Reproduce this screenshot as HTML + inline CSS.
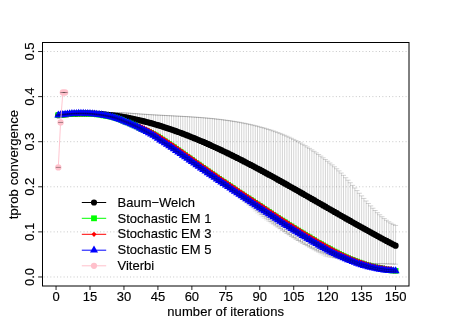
<!DOCTYPE html>
<html><head><meta charset="utf-8"><title>plot</title>
<style>
html,body{margin:0;padding:0;background:#fff;}
body{width:463px;height:327px;position:relative;overflow:hidden;font-family:"Liberation Sans",sans-serif;}
svg{will-change:transform;}
svg text{font-family:"Liberation Sans",sans-serif;font-size:13px;fill:#000;stroke:#000;stroke-width:0.15px;}
</style></head><body>
<svg width="463" height="327" viewBox="0 0 463 327" style="position:absolute;left:0;top:0" font-family="Liberation Sans, sans-serif" font-size="13">
<rect width="463" height="327" fill="#fff"/>
<line x1="43.7" x2="409.0" y1="276.98" y2="276.98" stroke="#c8c8c8" stroke-width="1" stroke-dasharray="1 2.32"/>
<line x1="43.7" x2="409.0" y1="231.89" y2="231.89" stroke="#c8c8c8" stroke-width="1" stroke-dasharray="1 2.32"/>
<line x1="43.7" x2="409.0" y1="186.79" y2="186.79" stroke="#c8c8c8" stroke-width="1" stroke-dasharray="1 2.32"/>
<line x1="43.7" x2="409.0" y1="141.7" y2="141.7" stroke="#c8c8c8" stroke-width="1" stroke-dasharray="1 2.32"/>
<line x1="43.7" x2="409.0" y1="96.61" y2="96.61" stroke="#c8c8c8" stroke-width="1" stroke-dasharray="1 2.32"/>
<line x1="43.7" x2="409.0" y1="51.52" y2="51.52" stroke="#c8c8c8" stroke-width="1" stroke-dasharray="1 2.32"/>
<g fill="#000"><circle cx="58.31" cy="115.15" r="3.1"/><circle cx="60.58" cy="114.86" r="3.1"/><circle cx="62.84" cy="114.6" r="3.1"/><circle cx="65.1" cy="114.36" r="3.1"/><circle cx="67.37" cy="114.16" r="3.1"/><circle cx="69.63" cy="113.97" r="3.1"/><circle cx="71.9" cy="113.82" r="3.1"/><circle cx="74.16" cy="113.69" r="3.1"/><circle cx="76.42" cy="113.58" r="3.1"/><circle cx="78.69" cy="113.51" r="3.1"/><circle cx="80.95" cy="113.45" r="3.1"/><circle cx="83.21" cy="113.43" r="3.1"/><circle cx="85.48" cy="113.43" r="3.1"/><circle cx="87.74" cy="113.45" r="3.1"/><circle cx="90" cy="113.5" r="3.1"/><circle cx="92.27" cy="113.57" r="3.1"/><circle cx="94.53" cy="113.67" r="3.1"/><circle cx="96.79" cy="113.79" r="3.1"/><circle cx="99.06" cy="113.93" r="3.1"/><circle cx="101.32" cy="114.1" r="3.1"/><circle cx="103.59" cy="114.29" r="3.1"/><circle cx="105.85" cy="114.5" r="3.1"/><circle cx="108.11" cy="114.74" r="3.1"/><circle cx="110.38" cy="114.99" r="3.1"/><circle cx="112.64" cy="115.27" r="3.1"/><circle cx="114.9" cy="115.58" r="3.1"/><circle cx="117.17" cy="115.9" r="3.1"/><circle cx="119.43" cy="116.25" r="3.1"/><circle cx="121.69" cy="116.61" r="3.1"/><circle cx="123.96" cy="117" r="3.1"/><circle cx="126.22" cy="117.41" r="3.1"/><circle cx="128.49" cy="117.84" r="3.1"/><circle cx="130.75" cy="118.29" r="3.1"/><circle cx="133.01" cy="118.76" r="3.1"/><circle cx="135.28" cy="119.25" r="3.1"/><circle cx="137.54" cy="119.76" r="3.1"/><circle cx="139.8" cy="120.29" r="3.1"/><circle cx="142.07" cy="120.83" r="3.1"/><circle cx="144.33" cy="121.4" r="3.1"/><circle cx="146.59" cy="121.98" r="3.1"/><circle cx="148.86" cy="122.59" r="3.1"/><circle cx="151.12" cy="123.21" r="3.1"/><circle cx="153.38" cy="123.85" r="3.1"/><circle cx="155.65" cy="124.51" r="3.1"/><circle cx="157.91" cy="125.18" r="3.1"/><circle cx="160.18" cy="125.87" r="3.1"/><circle cx="162.44" cy="126.58" r="3.1"/><circle cx="164.7" cy="127.31" r="3.1"/><circle cx="166.97" cy="128.05" r="3.1"/><circle cx="169.23" cy="128.81" r="3.1"/><circle cx="171.49" cy="129.58" r="3.1"/><circle cx="173.76" cy="130.37" r="3.1"/><circle cx="176.02" cy="131.18" r="3.1"/><circle cx="178.28" cy="132" r="3.1"/><circle cx="180.55" cy="132.83" r="3.1"/><circle cx="182.81" cy="133.68" r="3.1"/><circle cx="185.08" cy="134.55" r="3.1"/><circle cx="187.34" cy="135.43" r="3.1"/><circle cx="189.6" cy="136.32" r="3.1"/><circle cx="191.87" cy="137.23" r="3.1"/><circle cx="194.13" cy="138.15" r="3.1"/><circle cx="196.39" cy="139.09" r="3.1"/><circle cx="198.66" cy="140.03" r="3.1"/><circle cx="200.92" cy="140.99" r="3.1"/><circle cx="203.18" cy="141.97" r="3.1"/><circle cx="205.45" cy="142.95" r="3.1"/><circle cx="207.71" cy="143.95" r="3.1"/><circle cx="209.97" cy="144.96" r="3.1"/><circle cx="212.24" cy="145.98" r="3.1"/><circle cx="214.5" cy="147.02" r="3.1"/><circle cx="216.77" cy="148.06" r="3.1"/><circle cx="219.03" cy="149.12" r="3.1"/><circle cx="221.29" cy="150.18" r="3.1"/><circle cx="223.56" cy="151.26" r="3.1"/><circle cx="225.82" cy="152.34" r="3.1"/><circle cx="228.08" cy="153.44" r="3.1"/><circle cx="230.35" cy="154.55" r="3.1"/><circle cx="232.61" cy="155.66" r="3.1"/><circle cx="234.87" cy="156.79" r="3.1"/><circle cx="237.14" cy="157.92" r="3.1"/><circle cx="239.4" cy="159.07" r="3.1"/><circle cx="241.67" cy="160.22" r="3.1"/><circle cx="243.93" cy="161.38" r="3.1"/><circle cx="246.19" cy="162.55" r="3.1"/><circle cx="248.46" cy="163.73" r="3.1"/><circle cx="250.72" cy="164.91" r="3.1"/><circle cx="252.98" cy="166.1" r="3.1"/><circle cx="255.25" cy="167.3" r="3.1"/><circle cx="257.51" cy="168.51" r="3.1"/><circle cx="259.77" cy="169.72" r="3.1"/><circle cx="262.04" cy="170.94" r="3.1"/><circle cx="264.3" cy="172.16" r="3.1"/><circle cx="266.56" cy="173.39" r="3.1"/><circle cx="268.83" cy="174.63" r="3.1"/><circle cx="271.09" cy="175.87" r="3.1"/><circle cx="273.36" cy="177.12" r="3.1"/><circle cx="275.62" cy="178.37" r="3.1"/><circle cx="277.88" cy="179.63" r="3.1"/><circle cx="280.15" cy="180.89" r="3.1"/><circle cx="282.41" cy="182.16" r="3.1"/><circle cx="284.67" cy="183.43" r="3.1"/><circle cx="286.94" cy="184.7" r="3.1"/><circle cx="289.2" cy="185.98" r="3.1"/><circle cx="291.46" cy="187.26" r="3.1"/><circle cx="293.73" cy="188.55" r="3.1"/><circle cx="295.99" cy="189.83" r="3.1"/><circle cx="298.26" cy="191.12" r="3.1"/><circle cx="300.52" cy="192.41" r="3.1"/><circle cx="302.78" cy="193.71" r="3.1"/><circle cx="305.05" cy="195" r="3.1"/><circle cx="307.31" cy="196.3" r="3.1"/><circle cx="309.57" cy="197.6" r="3.1"/><circle cx="311.84" cy="198.9" r="3.1"/><circle cx="314.1" cy="200.2" r="3.1"/><circle cx="316.36" cy="201.51" r="3.1"/><circle cx="318.63" cy="202.81" r="3.1"/><circle cx="320.89" cy="204.11" r="3.1"/><circle cx="323.15" cy="205.42" r="3.1"/><circle cx="325.42" cy="206.72" r="3.1"/><circle cx="327.68" cy="208.02" r="3.1"/><circle cx="329.95" cy="209.32" r="3.1"/><circle cx="332.21" cy="210.62" r="3.1"/><circle cx="334.47" cy="211.92" r="3.1"/><circle cx="336.74" cy="213.22" r="3.1"/><circle cx="339" cy="214.52" r="3.1"/><circle cx="341.26" cy="215.81" r="3.1"/><circle cx="343.53" cy="217.11" r="3.1"/><circle cx="345.79" cy="218.4" r="3.1"/><circle cx="348.05" cy="219.68" r="3.1"/><circle cx="350.32" cy="220.97" r="3.1"/><circle cx="352.58" cy="222.25" r="3.1"/><circle cx="354.85" cy="223.53" r="3.1"/><circle cx="357.11" cy="224.8" r="3.1"/><circle cx="359.37" cy="226.07" r="3.1"/><circle cx="361.64" cy="227.34" r="3.1"/><circle cx="363.9" cy="228.6" r="3.1"/><circle cx="366.16" cy="229.86" r="3.1"/><circle cx="368.43" cy="231.11" r="3.1"/><circle cx="370.69" cy="232.36" r="3.1"/><circle cx="372.95" cy="233.61" r="3.1"/><circle cx="375.22" cy="234.84" r="3.1"/><circle cx="377.48" cy="236.08" r="3.1"/><circle cx="379.74" cy="237.3" r="3.1"/><circle cx="382.01" cy="238.52" r="3.1"/><circle cx="384.27" cy="239.73" r="3.1"/><circle cx="386.54" cy="240.94" r="3.1"/><circle cx="388.8" cy="242.14" r="3.1"/><circle cx="391.06" cy="243.33" r="3.1"/><circle cx="393.33" cy="244.52" r="3.1"/><circle cx="395.59" cy="245.7" r="3.1"/></g>
<path d="M58.31 114.85V115.45M55.81 114.85h5.0M55.81 115.45h5.0M60.58 114.56V115.16M58.08 114.56h5.0M58.08 115.16h5.0M62.84 114.23V114.97M60.34 114.23h5.0M60.34 114.97h5.0M65.1 113.88V114.85M62.6 113.88h5.0M62.6 114.85h5.0M67.37 113.61V114.71M64.87 113.61h5.0M64.87 114.71h5.0M69.63 113.41V114.54M67.13 113.41h5.0M67.13 114.54h5.0M71.9 113.28V114.36M69.4 113.28h5.0M69.4 114.36h5.0M74.16 113.21V114.17M71.66 113.21h5.0M71.66 114.17h5.0M76.42 113.18V113.99M73.92 113.18h5.0M73.92 113.99h5.0M78.69 113.19V113.82M76.19 113.19h5.0M76.19 113.82h5.0M80.95 113.15V113.75M78.45 113.15h5.0M78.45 113.75h5.0M83.21 113.13V113.73M80.71 113.13h5.0M80.71 113.73h5.0M85.48 113.13V113.73M82.98 113.13h5.0M82.98 113.73h5.0M87.74 113.15V113.75M85.24 113.15h5.0M85.24 113.75h5.0M90 113.2V113.8M87.5 113.2h5.0M87.5 113.8h5.0M92.27 113.27V113.87M89.77 113.27h5.0M89.77 113.87h5.0M94.53 113.37V113.97M92.03 113.37h5.0M92.03 113.97h5.0M96.79 113.48V114.09M94.29 113.48h5.0M94.29 114.09h5.0M99.06 113.41V114.45M96.56 113.41h5.0M96.56 114.45h5.0M101.32 113.32V114.87M98.82 113.32h5.0M98.82 114.87h5.0M103.59 113.21V115.36M101.09 113.21h5.0M101.09 115.36h5.0M105.85 113.09V115.91M103.35 113.09h5.0M103.35 115.91h5.0M108.11 112.98V116.5M105.61 112.98h5.0M105.61 116.5h5.0M110.38 112.87V117.12M107.88 112.87h5.0M107.88 117.12h5.0M112.64 112.78V117.77M110.14 112.78h5.0M110.14 117.77h5.0M114.9 112.72V118.44M112.4 112.72h5.0M112.4 118.44h5.0M117.17 112.69V119.11M114.67 112.69h5.0M114.67 119.11h5.0M119.43 112.71V119.79M116.93 112.71h5.0M116.93 119.79h5.0M121.69 112.76V120.46M119.19 112.76h5.0M119.19 120.46h5.0M123.96 112.86V121.14M121.46 112.86h5.0M121.46 121.14h5.0M126.22 112.98V121.84M123.72 112.98h5.0M123.72 121.84h5.0M128.49 113.12V122.55M125.99 113.12h5.0M125.99 122.55h5.0M130.75 113.28V123.3M128.25 113.28h5.0M128.25 123.3h5.0M133.01 113.45V124.07M130.51 113.45h5.0M130.51 124.07h5.0M135.28 113.61V124.88M132.78 113.61h5.0M132.78 124.88h5.0M137.54 113.78V125.74M135.04 113.78h5.0M135.04 125.74h5.0M139.8 113.94V126.63M137.3 113.94h5.0M137.3 126.63h5.0M142.07 114.11V127.56M139.57 114.11h5.0M139.57 127.56h5.0M144.33 114.26V128.54M141.83 114.26h5.0M141.83 128.54h5.0M146.59 114.41V129.56M144.09 114.41h5.0M144.09 129.56h5.0M148.86 114.56V130.62M146.36 114.56h5.0M146.36 130.62h5.0M151.12 114.7V131.72M148.62 114.7h5.0M148.62 131.72h5.0M153.38 114.83V132.87M150.88 114.83h5.0M150.88 132.87h5.0M155.65 114.96V134.05M153.15 114.96h5.0M153.15 134.05h5.0M157.91 115.09V135.27M155.41 115.09h5.0M155.41 135.27h5.0M160.18 115.21V136.53M157.68 115.21h5.0M157.68 136.53h5.0M162.44 115.33V137.83M159.94 115.33h5.0M159.94 137.83h5.0M164.7 115.45V139.16M162.2 115.45h5.0M162.2 139.16h5.0M166.97 115.57V140.53M164.47 115.57h5.0M164.47 140.53h5.0M169.23 115.68V141.93M166.73 115.68h5.0M166.73 141.93h5.0M171.49 115.8V143.36M168.99 115.8h5.0M168.99 143.36h5.0M173.76 115.92V144.82M171.26 115.92h5.0M171.26 144.82h5.0M176.02 116.04V146.32M173.52 116.04h5.0M173.52 146.32h5.0M178.28 116.16V147.84M175.78 116.16h5.0M175.78 147.84h5.0M180.55 116.28V149.39M178.05 116.28h5.0M178.05 149.39h5.0M182.81 116.41V150.96M180.31 116.41h5.0M180.31 150.96h5.0M185.08 116.53V152.56M182.58 116.53h5.0M182.58 152.56h5.0M187.34 116.67V154.19M184.84 116.67h5.0M184.84 154.19h5.0M189.6 116.81V155.84M187.1 116.81h5.0M187.1 155.84h5.0M191.87 116.95V157.51M189.37 116.95h5.0M189.37 157.51h5.0M194.13 117.1V159.2M191.63 117.1h5.0M191.63 159.2h5.0M196.39 117.26V160.92M193.89 117.26h5.0M193.89 160.92h5.0M198.66 117.42V162.65M196.16 117.42h5.0M196.16 162.65h5.0M200.92 117.59V164.4M198.42 117.59h5.0M198.42 164.4h5.0M203.18 117.77V166.16M200.68 117.77h5.0M200.68 166.16h5.0M205.45 117.96V167.95M202.95 117.96h5.0M202.95 167.95h5.0M207.71 118.16V169.74M205.21 118.16h5.0M205.21 169.74h5.0M209.97 118.37V171.55M207.47 118.37h5.0M207.47 171.55h5.0M212.24 118.59V173.37M209.74 118.59h5.0M209.74 173.37h5.0M214.5 118.82V175.21M212 118.82h5.0M212 175.21h5.0M216.77 119.07V177.05M214.27 119.07h5.0M214.27 177.05h5.0M219.03 119.33V178.91M216.53 119.33h5.0M216.53 178.91h5.0M221.29 119.6V180.77M218.79 119.6h5.0M218.79 180.77h5.0M223.56 119.88V182.63M221.06 119.88h5.0M221.06 182.63h5.0M225.82 120.18V184.51M223.32 120.18h5.0M223.32 184.51h5.0M228.08 120.5V186.39M225.58 120.5h5.0M225.58 186.39h5.0M230.35 120.83V188.27M227.85 120.83h5.0M227.85 188.27h5.0M232.61 121.17V190.16M230.11 121.17h5.0M230.11 190.16h5.0M234.87 121.54V192.04M232.37 121.54h5.0M232.37 192.04h5.0M237.14 121.92V193.93M234.64 121.92h5.0M234.64 193.93h5.0M239.4 122.32V195.82M236.9 122.32h5.0M236.9 195.82h5.0M241.67 122.74V197.7M239.17 122.74h5.0M239.17 197.7h5.0M243.93 123.18V199.58M241.43 123.18h5.0M241.43 199.58h5.0M246.19 123.64V201.46M243.69 123.64h5.0M243.69 201.46h5.0M248.46 124.12V203.33M245.96 124.12h5.0M245.96 203.33h5.0M250.72 124.62V205.2M248.22 124.62h5.0M248.22 205.2h5.0M252.98 125.14V207.06M250.48 125.14h5.0M250.48 207.06h5.0M255.25 125.69V208.91M252.75 125.69h5.0M252.75 208.91h5.0M257.51 126.26V210.75M255.01 126.26h5.0M255.01 210.75h5.0M259.77 126.85V212.59M257.27 126.85h5.0M257.27 212.59h5.0M262.04 127.47V214.41M259.54 127.47h5.0M259.54 214.41h5.0M264.3 128.11V216.21M261.8 128.11h5.0M261.8 216.21h5.0M266.56 128.78V218.01M264.06 128.78h5.0M264.06 218.01h5.0M268.83 129.48V219.78M266.33 129.48h5.0M266.33 219.78h5.0M271.09 130.2V221.54M268.59 130.2h5.0M268.59 221.54h5.0M273.36 130.96V223.28M270.86 130.96h5.0M270.86 223.28h5.0M275.62 131.75V224.99M273.12 131.75h5.0M273.12 224.99h5.0M277.88 132.57V226.68M275.38 132.57h5.0M275.38 226.68h5.0M280.15 133.43V228.35M277.65 133.43h5.0M277.65 228.35h5.0M282.41 134.33V229.99M279.91 134.33h5.0M279.91 229.99h5.0M284.67 135.26V231.59M282.17 135.26h5.0M282.17 231.59h5.0M286.94 136.24V233.17M284.44 136.24h5.0M284.44 233.17h5.0M289.2 137.25V234.71M286.7 137.25h5.0M286.7 234.71h5.0M291.46 138.31V236.22M288.96 138.31h5.0M288.96 236.22h5.0M293.73 139.41V237.69M291.23 139.41h5.0M291.23 237.69h5.0M295.99 140.55V239.11M293.49 140.55h5.0M293.49 239.11h5.0M298.26 141.74V240.5M295.76 141.74h5.0M295.76 240.5h5.0M300.52 142.98V241.85M298.02 142.98h5.0M298.02 241.85h5.0M302.78 144.27V243.15M300.28 144.27h5.0M300.28 243.15h5.0M305.05 145.6V244.41M302.55 145.6h5.0M302.55 244.41h5.0M307.31 146.97V245.63M304.81 146.97h5.0M304.81 245.63h5.0M309.57 148.39V246.81M307.07 148.39h5.0M307.07 246.81h5.0M311.84 149.86V247.95M309.34 149.86h5.0M309.34 247.95h5.0M314.1 151.36V249.05M311.6 151.36h5.0M311.6 249.05h5.0M316.36 152.91V250.11M313.86 152.91h5.0M313.86 250.11h5.0M318.63 154.49V251.12M316.13 154.49h5.0M316.13 251.12h5.0M320.89 156.12V252.1M318.39 156.12h5.0M318.39 252.1h5.0M323.15 157.79V253.05M320.65 157.79h5.0M320.65 253.05h5.0M325.42 159.49V253.95M322.92 159.49h5.0M322.92 253.95h5.0M327.68 161.23V254.81M325.18 161.23h5.0M325.18 254.81h5.0M329.95 163.02V255.62M327.45 163.02h5.0M327.45 255.62h5.0M332.21 164.87V256.37M329.71 164.87h5.0M329.71 256.37h5.0M334.47 166.79V257.06M331.97 166.79h5.0M331.97 257.06h5.0M336.74 168.78V257.62M334.24 168.78h5.0M334.24 257.62h5.0M339 170.87V258.16M336.5 170.87h5.0M336.5 258.16h5.0M341.26 173.04V258.66M338.76 173.04h5.0M338.76 258.66h5.0M343.53 175.33V259.11M341.03 175.33h5.0M341.03 259.11h5.0M345.79 177.72V259.58M343.29 177.72h5.0M343.29 259.58h5.0M348.05 180.2V260.13M345.55 180.2h5.0M345.55 260.13h5.0M350.32 182.76V260.77M347.82 182.76h5.0M347.82 260.77h5.0M352.58 185.36V261.27M350.08 185.36h5.0M350.08 261.27h5.0M354.85 187.99V261.77M352.35 187.99h5.0M352.35 261.77h5.0M357.11 190.62V262M354.61 190.62h5.0M354.61 262h5.0M359.37 193.25V262.21M356.87 193.25h5.0M356.87 262.21h5.0M361.64 195.86V262.43M359.14 195.86h5.0M359.14 262.43h5.0M363.9 198.43V262.64M361.4 198.43h5.0M361.4 262.64h5.0M366.16 200.97V262.85M363.66 200.97h5.0M363.66 262.85h5.0M368.43 203.46V263.07M365.93 203.46h5.0M365.93 263.07h5.0M370.69 205.89V263.28M368.19 205.89h5.0M368.19 263.28h5.0M372.95 208.24V263.5M370.45 208.24h5.0M370.45 263.5h5.0M375.22 210.51V263.56M372.72 210.51h5.0M372.72 263.56h5.0M377.48 212.69V263.63M374.98 212.69h5.0M374.98 263.63h5.0M379.74 214.76V263.7M377.24 214.76h5.0M377.24 263.7h5.0M382.01 216.72V263.76M379.51 216.72h5.0M379.51 263.76h5.0M384.27 218.56V263.83M381.77 218.56h5.0M381.77 263.83h5.0M386.54 220.25V263.89M384.04 220.25h5.0M384.04 263.89h5.0M388.8 221.8V263.96M386.3 221.8h5.0M386.3 263.96h5.0M391.06 223.2V264.03M388.56 223.2h5.0M388.56 264.03h5.0M393.33 224.42V264.09M390.83 224.42h5.0M390.83 264.09h5.0M395.59 225.46V264.16M393.09 225.46h5.0M393.09 264.16h5.0" stroke="#000" stroke-opacity="0.2" stroke-width="0.85" fill="none"/>
<path fill="#00ff00" d="M55.41 112.24h5.8v5.8h-5.8zM57.68 111.94h5.8v5.8h-5.8zM59.94 111.67h5.8v5.8h-5.8zM62.2 111.43h5.8v5.8h-5.8zM64.47 111.21h5.8v5.8h-5.8zM66.73 111.03h5.8v5.8h-5.8zM69 110.87h5.8v5.8h-5.8zM71.26 110.75h5.8v5.8h-5.8zM73.52 110.66h5.8v5.8h-5.8zM75.79 110.61h5.8v5.8h-5.8zM78.05 110.59h5.8v5.8h-5.8zM80.31 110.6h5.8v5.8h-5.8zM82.58 110.65h5.8v5.8h-5.8zM84.84 110.74h5.8v5.8h-5.8zM87.1 110.86h5.8v5.8h-5.8zM89.37 111.02h5.8v5.8h-5.8zM91.63 111.22h5.8v5.8h-5.8zM93.89 111.46h5.8v5.8h-5.8zM96.16 111.74h5.8v5.8h-5.8zM98.42 112.06h5.8v5.8h-5.8zM100.69 112.43h5.8v5.8h-5.8zM102.95 112.83h5.8v5.8h-5.8zM105.21 113.28h5.8v5.8h-5.8zM107.48 113.77h5.8v5.8h-5.8zM109.74 114.25h5.8v5.8h-5.8zM112 114.79h5.8v5.8h-5.8zM114.27 115.5h5.8v5.8h-5.8zM116.53 116.28h5.8v5.8h-5.8zM118.79 117.12h5.8v5.8h-5.8zM121.06 118.01h5.8v5.8h-5.8zM123.32 118.88h5.8v5.8h-5.8zM125.59 119.76h5.8v5.8h-5.8zM127.85 120.68h5.8v5.8h-5.8zM130.11 121.67h5.8v5.8h-5.8zM132.38 122.7h5.8v5.8h-5.8zM134.64 123.79h5.8v5.8h-5.8zM136.9 124.96h5.8v5.8h-5.8zM139.17 125.95h5.8v5.8h-5.8zM141.43 126.94h5.8v5.8h-5.8zM143.69 127.94h5.8v5.8h-5.8zM145.96 128.96h5.8v5.8h-5.8zM148.22 130.03h5.8v5.8h-5.8zM150.48 131.16h5.8v5.8h-5.8zM152.75 132.39h5.8v5.8h-5.8zM155.01 133.81h5.8v5.8h-5.8zM157.28 135.27h5.8v5.8h-5.8zM159.54 136.74h5.8v5.8h-5.8zM161.8 138.23h5.8v5.8h-5.8zM164.07 139.74h5.8v5.8h-5.8zM166.33 141.27h5.8v5.8h-5.8zM168.59 142.82h5.8v5.8h-5.8zM170.86 144.37h5.8v5.8h-5.8zM173.12 145.94h5.8v5.8h-5.8zM175.38 147.52h5.8v5.8h-5.8zM177.65 149.11h5.8v5.8h-5.8zM179.91 150.7h5.8v5.8h-5.8zM182.18 152.3h5.8v5.8h-5.8zM184.44 153.9h5.8v5.8h-5.8zM186.7 155.5h5.8v5.8h-5.8zM188.97 157.09h5.8v5.8h-5.8zM191.23 158.69h5.8v5.8h-5.8zM193.49 160.28h5.8v5.8h-5.8zM195.76 161.87h5.8v5.8h-5.8zM198.02 163.45h5.8v5.8h-5.8zM200.28 165.02h5.8v5.8h-5.8zM202.55 166.6h5.8v5.8h-5.8zM204.81 168.16h5.8v5.8h-5.8zM207.07 169.73h5.8v5.8h-5.8zM209.34 171.29h5.8v5.8h-5.8zM211.6 172.84h5.8v5.8h-5.8zM213.87 174.39h5.8v5.8h-5.8zM216.13 175.94h5.8v5.8h-5.8zM218.39 177.48h5.8v5.8h-5.8zM220.66 179.02h5.8v5.8h-5.8zM222.92 180.55h5.8v5.8h-5.8zM225.18 182.08h5.8v5.8h-5.8zM227.45 183.6h5.8v5.8h-5.8zM229.71 185.12h5.8v5.8h-5.8zM231.97 186.63h5.8v5.8h-5.8zM234.24 188.14h5.8v5.8h-5.8zM236.5 189.65h5.8v5.8h-5.8zM238.77 191.15h5.8v5.8h-5.8zM241.03 192.64h5.8v5.8h-5.8zM243.29 194.13h5.8v5.8h-5.8zM245.56 195.62h5.8v5.8h-5.8zM247.82 197.1h5.8v5.8h-5.8zM250.08 198.58h5.8v5.8h-5.8zM252.35 200.05h5.8v5.8h-5.8zM254.61 201.51h5.8v5.8h-5.8zM256.87 202.98h5.8v5.8h-5.8zM259.14 204.48h5.8v5.8h-5.8zM261.4 205.99h5.8v5.8h-5.8zM263.66 207.49h5.8v5.8h-5.8zM265.93 208.98h5.8v5.8h-5.8zM268.19 210.47h5.8v5.8h-5.8zM270.46 211.96h5.8v5.8h-5.8zM272.72 213.44h5.8v5.8h-5.8zM274.98 214.91h5.8v5.8h-5.8zM277.25 216.38h5.8v5.8h-5.8zM279.51 217.84h5.8v5.8h-5.8zM281.77 219.3h5.8v5.8h-5.8zM284.04 220.76h5.8v5.8h-5.8zM286.3 222.21h5.8v5.8h-5.8zM288.56 223.62h5.8v5.8h-5.8zM290.83 225.01h5.8v5.8h-5.8zM293.09 226.4h5.8v5.8h-5.8zM295.36 227.78h5.8v5.8h-5.8zM297.62 229.16h5.8v5.8h-5.8zM299.88 230.53h5.8v5.8h-5.8zM302.15 231.9h5.8v5.8h-5.8zM304.41 233.26h5.8v5.8h-5.8zM306.67 234.61h5.8v5.8h-5.8zM308.94 235.96h5.8v5.8h-5.8zM311.2 237.3h5.8v5.8h-5.8zM313.46 238.63h5.8v5.8h-5.8zM315.73 239.94h5.8v5.8h-5.8zM317.99 241.24h5.8v5.8h-5.8zM320.25 242.53h5.8v5.8h-5.8zM322.52 243.79h5.8v5.8h-5.8zM324.78 245.04h5.8v5.8h-5.8zM327.05 246.27h5.8v5.8h-5.8zM329.31 247.48h5.8v5.8h-5.8zM331.57 248.66h5.8v5.8h-5.8zM333.84 249.82h5.8v5.8h-5.8zM336.1 250.95h5.8v5.8h-5.8zM338.36 252.05h5.8v5.8h-5.8zM340.63 253.13h5.8v5.8h-5.8zM342.89 254.17h5.8v5.8h-5.8zM345.15 255.18h5.8v5.8h-5.8zM347.42 256.16h5.8v5.8h-5.8zM349.68 257.1h5.8v5.8h-5.8zM351.95 258h5.8v5.8h-5.8zM354.21 258.86h5.8v5.8h-5.8zM356.47 259.69h5.8v5.8h-5.8zM358.74 260.47h5.8v5.8h-5.8zM361 261.21h5.8v5.8h-5.8zM363.26 261.9h5.8v5.8h-5.8zM365.53 262.55h5.8v5.8h-5.8zM367.79 263.15h5.8v5.8h-5.8zM370.05 263.7h5.8v5.8h-5.8zM372.32 264.2h5.8v5.8h-5.8zM374.58 264.65h5.8v5.8h-5.8zM376.84 265.06h5.8v5.8h-5.8zM379.11 265.6h5.8v5.8h-5.8zM381.37 266.13h5.8v5.8h-5.8zM383.64 266.62h5.8v5.8h-5.8zM385.9 267.06h5.8v5.8h-5.8zM388.16 267.46h5.8v5.8h-5.8zM390.43 267.82h5.8v5.8h-5.8zM392.69 268.07h5.8v5.8h-5.8z"/>
<path d="M58.31 115.14V115.44M55.81 115.14h5.0M55.81 115.44h5.0M60.58 114.84V115.14M58.08 114.84h5.0M58.08 115.14h5.0M62.84 114.57V114.87M60.34 114.57h5.0M60.34 114.87h5.0M65.1 114.33V114.63M62.6 114.33h5.0M62.6 114.63h5.0M67.37 114.11V114.41M64.87 114.11h5.0M64.87 114.41h5.0M69.63 113.93V114.23M67.13 113.93h5.0M67.13 114.23h5.0M71.9 113.77V114.07M69.4 113.77h5.0M69.4 114.07h5.0M74.16 113.65V113.95M71.66 113.65h5.0M71.66 113.95h5.0M76.42 113.56V113.86M73.92 113.56h5.0M73.92 113.86h5.0M78.69 113.51V113.81M76.19 113.51h5.0M76.19 113.81h5.0M80.95 113.49V113.79M78.45 113.49h5.0M78.45 113.79h5.0M83.21 113.5V113.8M80.71 113.5h5.0M80.71 113.8h5.0M85.48 113.55V113.85M82.98 113.55h5.0M82.98 113.85h5.0M87.74 113.64V113.94M85.24 113.64h5.0M85.24 113.94h5.0M90 113.76V114.06M87.5 113.76h5.0M87.5 114.06h5.0M92.27 113.92V114.22M89.77 113.92h5.0M89.77 114.22h5.0M94.53 114.12V114.42M92.03 114.12h5.0M92.03 114.42h5.0M96.79 114.36V114.66M94.29 114.36h5.0M94.29 114.66h5.0M99.06 114.64V114.94M96.56 114.64h5.0M96.56 114.94h5.0M101.32 114.96V115.26M98.82 114.96h5.0M98.82 115.26h5.0M103.59 115.33V115.63M101.09 115.33h5.0M101.09 115.63h5.0M105.85 115.73V116.03M103.35 115.73h5.0M103.35 116.03h5.0M108.11 116.18V116.48M105.61 116.18h5.0M105.61 116.48h5.0M110.38 116.67V116.97M107.88 116.67h5.0M107.88 116.97h5.0M112.64 117.15V117.55M110.14 117.15h5.0M110.14 117.55h5.0M114.9 117.69V118.22M112.4 117.69h5.0M112.4 118.22h5.0M117.17 118.4V119.06M114.67 118.4h5.0M114.67 119.06h5.0M119.43 119.18V119.96M116.93 119.18h5.0M116.93 119.96h5.0M121.69 120.02V120.92M119.19 120.02h5.0M119.19 120.92h5.0M123.96 120.91V121.92M121.46 120.91h5.0M121.46 121.92h5.0M126.22 121.78V122.9M123.72 121.78h5.0M123.72 122.9h5.0M128.49 122.66V123.87M125.99 122.66h5.0M125.99 123.87h5.0M130.75 123.58V124.88M128.25 123.58h5.0M128.25 124.88h5.0M133.01 124.57V125.95M130.51 124.57h5.0M130.51 125.95h5.0M135.28 125.6V127.05M132.78 125.6h5.0M132.78 127.05h5.0M137.54 126.69V128.2M135.04 126.69h5.0M135.04 128.2h5.0M139.8 127.86V129.55M137.3 127.86h5.0M137.3 129.55h5.0M142.07 128.85V130.76M139.57 128.85h5.0M139.57 130.76h5.0M144.33 129.84V131.99M141.83 129.84h5.0M141.83 131.99h5.0M146.59 130.84V133.25M144.09 130.84h5.0M144.09 133.25h5.0M148.86 131.86V134.54M146.36 131.86h5.0M146.36 134.54h5.0M151.12 132.93V135.86M148.62 132.93h5.0M148.62 135.86h5.0M153.38 134.06V137.21M150.88 134.06h5.0M150.88 137.21h5.0M155.65 135.29V138.66M153.15 135.29h5.0M153.15 138.66h5.0M157.91 136.71V140.31M155.41 136.71h5.0M155.41 140.31h5.0M160.18 138.17V141.96M157.68 138.17h5.0M157.68 141.96h5.0M162.44 139.64V143.44M159.94 139.64h5.0M159.94 143.44h5.0M164.7 141.13V144.95M162.2 141.13h5.0M162.2 144.95h5.0M166.97 142.64V146.47M164.47 142.64h5.0M164.47 146.47h5.0M169.23 144.17V148.01M166.73 144.17h5.0M166.73 148.01h5.0M171.49 145.72V149.56M168.99 145.72h5.0M168.99 149.56h5.0M173.76 147.27V151.12M171.26 147.27h5.0M171.26 151.12h5.0M176.02 148.84V152.7M173.52 148.84h5.0M173.52 152.7h5.0M178.28 150.42V154.28M175.78 150.42h5.0M175.78 154.28h5.0M180.55 152.01V155.88M178.05 152.01h5.0M178.05 155.88h5.0M182.81 153.6V157.47M180.31 153.6h5.0M180.31 157.47h5.0M185.08 155.2V159.07M182.58 155.2h5.0M182.58 159.07h5.0M187.34 156.8V160.67M184.84 156.8h5.0M184.84 160.67h5.0M189.6 158.4V162.27M187.1 158.4h5.0M187.1 162.27h5.0M191.87 159.99V163.87M189.37 159.99h5.0M189.37 163.87h5.0M194.13 161.59V165.47M191.63 161.59h5.0M191.63 165.47h5.0M196.39 163.18V167.05M193.89 163.18h5.0M193.89 167.05h5.0M198.66 164.77V168.64M196.16 164.77h5.0M196.16 168.64h5.0M200.92 166.35V170.22M198.42 166.35h5.0M198.42 170.22h5.0M203.18 167.92V171.79M200.68 167.92h5.0M200.68 171.79h5.0M205.45 169.5V173.36M202.95 169.5h5.0M202.95 173.36h5.0M207.71 171.06V174.93M205.21 171.06h5.0M205.21 174.93h5.0M209.97 172.63V176.49M207.47 172.63h5.0M207.47 176.49h5.0M212.24 174.19V178.05M209.74 174.19h5.0M209.74 178.05h5.0M214.5 175.74V179.6M212 175.74h5.0M212 179.6h5.0M216.77 177.29V181.15M214.27 177.29h5.0M214.27 181.15h5.0M219.03 178.84V182.69M216.53 178.84h5.0M216.53 182.69h5.0M221.29 180.38V184.23M218.79 180.38h5.0M218.79 184.23h5.0M223.56 181.92V185.77M221.06 181.92h5.0M221.06 185.77h5.0M225.82 183.45V187.3M223.32 183.45h5.0M223.32 187.3h5.0M228.08 184.98V188.82M225.58 184.98h5.0M225.58 188.82h5.0M230.35 186.5V190.34M227.85 186.5h5.0M227.85 190.34h5.0M232.61 188.02V191.86M230.11 188.02h5.0M230.11 191.86h5.0M234.87 189.53V193.37M232.37 189.53h5.0M232.37 193.37h5.0M237.14 191.04V195.32M234.64 191.04h5.0M234.64 195.32h5.0M239.4 192.55V197.29M236.9 192.55h5.0M236.9 197.29h5.0M241.67 194.05V199.26M239.17 194.05h5.0M239.17 199.26h5.0M243.93 195.54V201.22M241.43 195.54h5.0M241.43 201.22h5.0M246.19 197.03V203.18M243.69 197.03h5.0M243.69 203.18h5.0M248.46 198.52V205.13M245.96 198.52h5.0M245.96 205.13h5.0M250.72 200V207.09M248.22 200h5.0M248.22 207.09h5.0M252.98 201.48V209.04M250.48 201.48h5.0M250.48 209.04h5.0M255.25 202.95V210.99M252.75 202.95h5.0M252.75 210.99h5.0M257.51 204.41V212.94M255.01 204.41h5.0M255.01 212.94h5.0M259.77 205.88V214.88M257.27 205.88h5.0M257.27 214.88h5.0M262.04 207.38V216.85M259.54 207.38h5.0M259.54 216.85h5.0M264.3 208.89V218.37M261.8 208.89h5.0M261.8 218.37h5.0M266.56 210.39V219.89M264.06 210.39h5.0M264.06 219.89h5.0M268.83 211.88V221.4M266.33 211.88h5.0M266.33 221.4h5.0M271.09 213.37V222.9M268.59 213.37h5.0M268.59 222.9h5.0M273.36 214.86V224.4M270.86 214.86h5.0M270.86 224.4h5.0M275.62 216.34V225.9M273.12 216.34h5.0M273.12 225.9h5.0M277.88 217.81V227.39M275.38 217.81h5.0M275.38 227.39h5.0M280.15 219.28V228.88M277.65 219.28h5.0M277.65 228.88h5.0M282.41 220.74V230.36M279.91 220.74h5.0M279.91 230.36h5.0M284.67 222.2V231.83M282.17 222.2h5.0M282.17 231.83h5.0M286.94 223.66V233.3M284.44 223.66h5.0M284.44 233.3h5.0M289.2 225.11V234.77M286.7 225.11h5.0M286.7 234.77h5.0M291.46 226.52V236.19M288.96 226.52h5.0M288.96 236.19h5.0M293.73 227.91V237.59M291.23 227.91h5.0M291.23 237.59h5.0M295.99 229.3V238.98M293.49 229.3h5.0M293.49 238.98h5.0M298.26 230.68V240.37M295.76 230.68h5.0M295.76 240.37h5.0M300.52 232.06V241.75M298.02 232.06h5.0M298.02 241.75h5.0M302.78 233.43V243.12M300.28 233.43h5.0M300.28 243.12h5.0M305.05 234.8V244.5M302.55 234.8h5.0M302.55 244.5h5.0M307.31 236.16V245.86M304.81 236.16h5.0M304.81 245.86h5.0M309.57 237.51V247.22M307.07 237.51h5.0M307.07 247.22h5.0M311.84 238.86V248.57M309.34 238.86h5.0M309.34 248.57h5.0M314.1 240.2V249.91M311.6 240.2h5.0M311.6 249.91h5.0M316.36 241.53V251.24M313.86 241.53h5.0M313.86 251.24h5.0M318.63 242.84V252.56M316.13 242.84h5.0M316.13 252.56h5.0M320.89 244.14V253.86M318.39 244.14h5.0M318.39 253.86h5.0M323.15 245.43V255.14M320.65 245.43h5.0M320.65 255.14h5.0M325.42 246.69V256.27M322.92 246.69h5.0M322.92 256.27h5.0M327.68 247.94V256.78M325.18 247.94h5.0M325.18 256.78h5.0M329.95 249.17V257.27M327.45 249.17h5.0M327.45 257.27h5.0M332.21 250.38V257.63M329.71 250.38h5.0M329.71 257.63h5.0M334.47 251.56V257.97M331.97 251.56h5.0M331.97 257.97h5.0M336.74 252.72V258.28M334.24 252.72h5.0M334.24 258.28h5.0M339 253.85V258.56M336.5 253.85h5.0M336.5 258.56h5.0M341.26 254.95V258.81M338.76 254.95h5.0M338.76 258.81h5.0M343.53 256.03V259.2M341.03 256.03h5.0M341.03 259.2h5.0M345.79 257.07V260.12M343.29 257.07h5.0M343.29 260.12h5.0M348.05 258.08V261.01M345.55 258.08h5.0M345.55 261.01h5.0M350.32 259.06V261.86M347.82 259.06h5.0M347.82 261.86h5.0M352.58 260V262.67M350.08 260h5.0M350.08 262.67h5.0M354.85 260.9V263.45M352.35 260.9h5.0M352.35 263.45h5.0M357.11 261.76V264.21M354.61 261.76h5.0M354.61 264.21h5.0M359.37 262.59V264.94M356.87 262.59h5.0M356.87 264.94h5.0M361.64 263.37V265.62M359.14 263.37h5.0M359.14 265.62h5.0M363.9 264.11V266.26M361.4 264.11h5.0M361.4 266.26h5.0M366.16 264.8V266.85M363.66 264.8h5.0M363.66 266.85h5.0M368.43 265.45V267.4M365.93 265.45h5.0M365.93 267.4h5.0M370.69 266.05V267.89M368.19 266.05h5.0M368.19 267.89h5.0M372.95 266.6V268.34M370.45 266.6h5.0M370.45 268.34h5.0M375.22 267.1V268.75M372.72 267.1h5.0M372.72 268.75h5.0M377.48 267.55V269.14M374.98 267.55h5.0M374.98 269.14h5.0M379.74 267.96V269.48M377.24 267.96h5.0M377.24 269.48h5.0M382.01 268.5V269.77M379.51 268.5h5.0M379.51 269.77h5.0M384.27 269.03V270.01M381.77 269.03h5.0M381.77 270.01h5.0M386.54 269.52V270.2M384.04 269.52h5.0M384.04 270.2h5.0M388.8 269.96V270.34M386.3 269.96h5.0M386.3 270.34h5.0M391.06 270.36V270.66M388.56 270.36h5.0M388.56 270.66h5.0M393.33 270.72V271.02M390.83 270.72h5.0M390.83 271.02h5.0M395.59 270.97V271.27M393.09 270.97h5.0M393.09 271.27h5.0" stroke="#000" stroke-opacity="0.11" stroke-width="0.85" fill="none"/>
<path fill="#ff0000" d="M55.71 115.14l2.6 -2.6l2.6 2.6l-2.6 2.6zM57.98 114.84l2.6 -2.6l2.6 2.6l-2.6 2.6zM60.24 114.57l2.6 -2.6l2.6 2.6l-2.6 2.6zM62.5 114.33l2.6 -2.6l2.6 2.6l-2.6 2.6zM64.77 114.11l2.6 -2.6l2.6 2.6l-2.6 2.6zM67.03 113.93l2.6 -2.6l2.6 2.6l-2.6 2.6zM69.3 113.77l2.6 -2.6l2.6 2.6l-2.6 2.6zM71.56 113.65l2.6 -2.6l2.6 2.6l-2.6 2.6zM73.82 113.56l2.6 -2.6l2.6 2.6l-2.6 2.6zM76.09 113.51l2.6 -2.6l2.6 2.6l-2.6 2.6zM78.35 113.49l2.6 -2.6l2.6 2.6l-2.6 2.6zM80.61 113.5l2.6 -2.6l2.6 2.6l-2.6 2.6zM82.88 113.55l2.6 -2.6l2.6 2.6l-2.6 2.6zM85.14 113.64l2.6 -2.6l2.6 2.6l-2.6 2.6zM87.4 113.76l2.6 -2.6l2.6 2.6l-2.6 2.6zM89.67 113.92l2.6 -2.6l2.6 2.6l-2.6 2.6zM91.93 114.12l2.6 -2.6l2.6 2.6l-2.6 2.6zM94.19 114.36l2.6 -2.6l2.6 2.6l-2.6 2.6zM96.46 114.64l2.6 -2.6l2.6 2.6l-2.6 2.6zM98.72 114.96l2.6 -2.6l2.6 2.6l-2.6 2.6zM100.99 115.33l2.6 -2.6l2.6 2.6l-2.6 2.6zM103.25 115.73l2.6 -2.6l2.6 2.6l-2.6 2.6zM105.51 116.18l2.6 -2.6l2.6 2.6l-2.6 2.6zM107.78 116.68l2.6 -2.6l2.6 2.6l-2.6 2.6zM110.04 117.22l2.6 -2.6l2.6 2.6l-2.6 2.6zM112.3 117.8l2.6 -2.6l2.6 2.6l-2.6 2.6zM114.57 118.57l2.6 -2.6l2.6 2.6l-2.6 2.6zM116.83 119.38l2.6 -2.6l2.6 2.6l-2.6 2.6zM119.09 120.25l2.6 -2.6l2.6 2.6l-2.6 2.6zM121.36 121.16l2.6 -2.6l2.6 2.6l-2.6 2.6zM123.62 122.05l2.6 -2.6l2.6 2.6l-2.6 2.6zM125.89 122.93l2.6 -2.6l2.6 2.6l-2.6 2.6zM128.15 123.86l2.6 -2.6l2.6 2.6l-2.6 2.6zM130.41 124.84l2.6 -2.6l2.6 2.6l-2.6 2.6zM132.68 125.86l2.6 -2.6l2.6 2.6l-2.6 2.6zM134.94 126.93l2.6 -2.6l2.6 2.6l-2.6 2.6zM137.2 126.07l2.6 -2.6l2.6 2.6l-2.6 2.6zM139.47 127.11l2.6 -2.6l2.6 2.6l-2.6 2.6zM141.73 128.16l2.6 -2.6l2.6 2.6l-2.6 2.6zM143.99 129.25l2.6 -2.6l2.6 2.6l-2.6 2.6zM146.26 130.38l2.6 -2.6l2.6 2.6l-2.6 2.6zM148.52 131.54l2.6 -2.6l2.6 2.6l-2.6 2.6zM150.78 132.73l2.6 -2.6l2.6 2.6l-2.6 2.6zM153.05 134.03l2.6 -2.6l2.6 2.6l-2.6 2.6zM155.31 135.52l2.6 -2.6l2.6 2.6l-2.6 2.6zM157.58 136.93l2.6 -2.6l2.6 2.6l-2.6 2.6zM159.84 138.38l2.6 -2.6l2.6 2.6l-2.6 2.6zM162.1 139.84l2.6 -2.6l2.6 2.6l-2.6 2.6zM164.37 141.33l2.6 -2.6l2.6 2.6l-2.6 2.6zM166.63 142.83l2.6 -2.6l2.6 2.6l-2.6 2.6zM168.89 144.35l2.6 -2.6l2.6 2.6l-2.6 2.6zM171.16 145.89l2.6 -2.6l2.6 2.6l-2.6 2.6zM173.42 147.45l2.6 -2.6l2.6 2.6l-2.6 2.6zM175.68 149.01l2.6 -2.6l2.6 2.6l-2.6 2.6zM177.95 150.58l2.6 -2.6l2.6 2.6l-2.6 2.6zM180.21 152.17l2.6 -2.6l2.6 2.6l-2.6 2.6zM182.48 153.76l2.6 -2.6l2.6 2.6l-2.6 2.6zM184.74 155.35l2.6 -2.6l2.6 2.6l-2.6 2.6zM187 156.95l2.6 -2.6l2.6 2.6l-2.6 2.6zM189.27 158.55l2.6 -2.6l2.6 2.6l-2.6 2.6zM191.53 160.14l2.6 -2.6l2.6 2.6l-2.6 2.6zM193.79 161.74l2.6 -2.6l2.6 2.6l-2.6 2.6zM196.06 163.33l2.6 -2.6l2.6 2.6l-2.6 2.6zM198.32 164.92l2.6 -2.6l2.6 2.6l-2.6 2.6zM200.58 166.5l2.6 -2.6l2.6 2.6l-2.6 2.6zM202.85 168.08l2.6 -2.6l2.6 2.6l-2.6 2.6zM205.11 169.65l2.6 -2.6l2.6 2.6l-2.6 2.6zM207.37 171.22l2.6 -2.6l2.6 2.6l-2.6 2.6zM209.64 172.78l2.6 -2.6l2.6 2.6l-2.6 2.6zM211.9 174.35l2.6 -2.6l2.6 2.6l-2.6 2.6zM214.17 175.9l2.6 -2.6l2.6 2.6l-2.6 2.6zM216.43 177.45l2.6 -2.6l2.6 2.6l-2.6 2.6zM218.69 179l2.6 -2.6l2.6 2.6l-2.6 2.6zM220.96 180.54l2.6 -2.6l2.6 2.6l-2.6 2.6zM223.22 182.08l2.6 -2.6l2.6 2.6l-2.6 2.6zM225.48 183.62l2.6 -2.6l2.6 2.6l-2.6 2.6zM227.75 185.14l2.6 -2.6l2.6 2.6l-2.6 2.6zM230.01 186.67l2.6 -2.6l2.6 2.6l-2.6 2.6zM232.27 188.19l2.6 -2.6l2.6 2.6l-2.6 2.6zM234.54 189.7l2.6 -2.6l2.6 2.6l-2.6 2.6zM236.8 191.21l2.6 -2.6l2.6 2.6l-2.6 2.6zM239.07 192.72l2.6 -2.6l2.6 2.6l-2.6 2.6zM241.33 194.22l2.6 -2.6l2.6 2.6l-2.6 2.6zM243.59 195.72l2.6 -2.6l2.6 2.6l-2.6 2.6zM245.86 197.21l2.6 -2.6l2.6 2.6l-2.6 2.6zM248.12 198.7l2.6 -2.6l2.6 2.6l-2.6 2.6zM250.38 200.18l2.6 -2.6l2.6 2.6l-2.6 2.6zM252.65 201.66l2.6 -2.6l2.6 2.6l-2.6 2.6zM254.91 203.13l2.6 -2.6l2.6 2.6l-2.6 2.6zM257.17 204.6l2.6 -2.6l2.6 2.6l-2.6 2.6zM259.44 206.11l2.6 -2.6l2.6 2.6l-2.6 2.6zM261.7 207.62l2.6 -2.6l2.6 2.6l-2.6 2.6zM263.96 209.13l2.6 -2.6l2.6 2.6l-2.6 2.6zM266.23 210.63l2.6 -2.6l2.6 2.6l-2.6 2.6zM268.49 212.12l2.6 -2.6l2.6 2.6l-2.6 2.6zM270.76 213.62l2.6 -2.6l2.6 2.6l-2.6 2.6zM273.02 215.1l2.6 -2.6l2.6 2.6l-2.6 2.6zM275.28 216.58l2.6 -2.6l2.6 2.6l-2.6 2.6zM277.55 218.06l2.6 -2.6l2.6 2.6l-2.6 2.6zM279.81 219.53l2.6 -2.6l2.6 2.6l-2.6 2.6zM282.07 221l2.6 -2.6l2.6 2.6l-2.6 2.6zM284.34 222.46l2.6 -2.6l2.6 2.6l-2.6 2.6zM286.6 223.91l2.6 -2.6l2.6 2.6l-2.6 2.6zM288.86 225.33l2.6 -2.6l2.6 2.6l-2.6 2.6zM291.13 226.73l2.6 -2.6l2.6 2.6l-2.6 2.6zM293.39 228.13l2.6 -2.6l2.6 2.6l-2.6 2.6zM295.66 229.52l2.6 -2.6l2.6 2.6l-2.6 2.6zM297.92 230.9l2.6 -2.6l2.6 2.6l-2.6 2.6zM300.18 232.28l2.6 -2.6l2.6 2.6l-2.6 2.6zM302.45 233.65l2.6 -2.6l2.6 2.6l-2.6 2.6zM304.71 235.02l2.6 -2.6l2.6 2.6l-2.6 2.6zM306.97 236.38l2.6 -2.6l2.6 2.6l-2.6 2.6zM309.24 237.74l2.6 -2.6l2.6 2.6l-2.6 2.6zM311.5 239.08l2.6 -2.6l2.6 2.6l-2.6 2.6zM313.76 240.42l2.6 -2.6l2.6 2.6l-2.6 2.6zM316.03 241.75l2.6 -2.6l2.6 2.6l-2.6 2.6zM318.29 243.07l2.6 -2.6l2.6 2.6l-2.6 2.6zM320.55 244.37l2.6 -2.6l2.6 2.6l-2.6 2.6zM322.82 245.66l2.6 -2.6l2.6 2.6l-2.6 2.6zM325.08 246.93l2.6 -2.6l2.6 2.6l-2.6 2.6zM327.35 248.18l2.6 -2.6l2.6 2.6l-2.6 2.6zM329.61 249.42l2.6 -2.6l2.6 2.6l-2.6 2.6zM331.87 250.63l2.6 -2.6l2.6 2.6l-2.6 2.6zM334.14 251.82l2.6 -2.6l2.6 2.6l-2.6 2.6zM336.4 252.97l2.6 -2.6l2.6 2.6l-2.6 2.6zM338.66 254.05l2.6 -2.6l2.6 2.6l-2.6 2.6zM340.93 255.11l2.6 -2.6l2.6 2.6l-2.6 2.6zM343.19 256.13l2.6 -2.6l2.6 2.6l-2.6 2.6zM345.45 257.13l2.6 -2.6l2.6 2.6l-2.6 2.6zM347.72 258.09l2.6 -2.6l2.6 2.6l-2.6 2.6zM349.98 259.02l2.6 -2.6l2.6 2.6l-2.6 2.6zM352.25 259.92l2.6 -2.6l2.6 2.6l-2.6 2.6zM354.51 260.79l2.6 -2.6l2.6 2.6l-2.6 2.6zM356.77 261.62l2.6 -2.6l2.6 2.6l-2.6 2.6zM359.04 262.42l2.6 -2.6l2.6 2.6l-2.6 2.6zM361.3 263.17l2.6 -2.6l2.6 2.6l-2.6 2.6zM363.56 263.88l2.6 -2.6l2.6 2.6l-2.6 2.6zM365.83 264.55l2.6 -2.6l2.6 2.6l-2.6 2.6zM368.09 265.17l2.6 -2.6l2.6 2.6l-2.6 2.6zM370.35 265.74l2.6 -2.6l2.6 2.6l-2.6 2.6zM372.62 266.27l2.6 -2.6l2.6 2.6l-2.6 2.6zM374.88 266.77l2.6 -2.6l2.6 2.6l-2.6 2.6zM377.14 267.21l2.6 -2.6l2.6 2.6l-2.6 2.6zM379.41 267.61l2.6 -2.6l2.6 2.6l-2.6 2.6zM381.67 267.96l2.6 -2.6l2.6 2.6l-2.6 2.6zM383.94 268.26l2.6 -2.6l2.6 2.6l-2.6 2.6zM386.2 268.5l2.6 -2.6l2.6 2.6l-2.6 2.6zM388.46 268.69l2.6 -2.6l2.6 2.6l-2.6 2.6zM390.73 270.9l2.6 -2.6l2.6 2.6l-2.6 2.6zM392.99 270.97l2.6 -2.6l2.6 2.6l-2.6 2.6z"/>
<path fill="#0000ff" d="M58.31 110.49L62.34 117.47L54.28 117.47zM60.58 110.19L64.61 117.17L56.55 117.17zM62.84 109.92L66.87 116.9L58.81 116.9zM65.1 109.67L69.13 116.65L61.07 116.65zM67.37 109.46L71.4 116.44L63.34 116.44zM69.63 109.27L73.66 116.25L65.6 116.25zM71.9 109.12L75.93 116.1L67.87 116.1zM74.16 109L78.19 115.98L70.13 115.98zM76.42 108.91L80.45 115.89L72.39 115.89zM78.69 108.86L82.72 115.84L74.66 115.84zM80.95 108.83L84.98 115.81L76.92 115.81zM83.21 108.85L87.24 115.83L79.18 115.83zM85.48 108.9L89.51 115.88L81.45 115.88zM87.74 108.98L91.77 115.96L83.71 115.96zM90 109.11L94.03 116.09L85.97 116.09zM92.27 109.27L96.3 116.25L88.24 116.25zM94.53 109.47L98.56 116.45L90.5 116.45zM96.79 109.71L100.82 116.69L92.76 116.69zM99.06 109.99L103.09 116.97L95.03 116.97zM101.32 110.31L105.35 117.29L97.29 117.29zM103.59 110.67L107.62 117.65L99.56 117.65zM105.85 111.08L109.88 118.06L101.82 118.06zM108.11 111.53L112.14 118.51L104.08 118.51zM110.38 112.03L114.41 119.01L106.35 119.01zM112.64 112.57L116.67 119.55L108.61 119.55zM114.9 113.15L118.93 120.13L110.87 120.13zM117.17 113.91L121.2 120.89L113.14 120.89zM119.43 114.73L123.46 121.71L115.4 121.71zM121.69 115.59L125.72 122.57L117.66 122.57zM123.96 116.51L127.99 123.49L119.93 123.49zM126.22 117.4L130.25 124.38L122.19 124.38zM128.49 118.28L132.52 125.26L124.46 125.26zM130.75 119.21L134.78 126.19L126.72 126.19zM133.01 120.18L137.04 127.16L128.98 127.16zM135.28 121.21L139.31 128.19L131.25 128.19zM137.54 122.28L141.57 129.26L133.51 129.26zM139.8 123.55L143.83 130.53L135.77 130.53zM142.07 124.69L146.1 131.67L138.04 131.67zM144.33 125.85L148.36 132.83L140.3 132.83zM146.59 127.04L150.62 134.02L142.56 134.02zM148.86 128.27L152.89 135.25L144.83 135.25zM151.12 129.54L155.15 136.52L147.09 136.52zM153.38 130.83L157.41 137.81L149.35 137.81zM155.65 132.23L159.68 139.21L151.62 139.21zM157.91 133.83L161.94 140.81L153.88 140.81zM160.18 135.43L164.21 142.41L156.15 142.41zM162.44 136.88L166.47 143.85L158.41 143.85zM164.7 138.34L168.73 145.32L160.67 145.32zM166.97 139.83L171 146.81L162.94 146.81zM169.23 141.33L173.26 148.31L165.2 148.31zM171.49 142.85L175.52 149.83L167.46 149.83zM173.76 144.39L177.79 151.37L169.73 151.37zM176.02 145.95L180.05 152.93L171.99 152.93zM178.28 147.51L182.31 154.49L174.25 154.49zM180.55 149.08L184.58 156.06L176.52 156.06zM182.81 150.67L186.84 157.65L178.78 157.65zM185.08 152.26L189.11 159.24L181.05 159.24zM187.34 153.85L191.37 160.83L183.31 160.83zM189.6 155.45L193.63 162.43L185.57 162.43zM191.87 157.05L195.9 164.03L187.84 164.03zM194.13 158.64L198.16 165.62L190.1 165.62zM196.39 160.24L200.42 167.22L192.36 167.22zM198.66 161.83L202.69 168.81L194.63 168.81zM200.92 163.42L204.95 170.4L196.89 170.4zM203.18 165L207.21 171.98L199.15 171.98zM205.45 166.58L209.48 173.56L201.42 173.56zM207.71 168.15L211.74 175.13L203.68 175.13zM209.97 169.72L214 176.7L205.94 176.7zM212.24 171.28L216.27 178.26L208.21 178.26zM214.5 172.85L218.53 179.83L210.47 179.83zM216.77 174.4L220.8 181.38L212.74 181.38zM219.03 175.95L223.06 182.93L215 182.93zM221.29 177.5L225.32 184.48L217.26 184.48zM223.56 179.04L227.59 186.02L219.53 186.02zM225.82 180.58L229.85 187.56L221.79 187.56zM228.08 182.12L232.11 189.09L224.05 189.09zM230.35 183.64L234.38 190.62L226.32 190.62zM232.61 185.17L236.64 192.15L228.58 192.15zM234.87 186.69L238.9 193.67L230.84 193.67zM237.14 188.2L241.17 195.18L233.11 195.18zM239.4 189.71L243.43 196.69L235.37 196.69zM241.67 191.22L245.7 198.2L237.64 198.2zM243.93 192.72L247.96 199.7L239.9 199.7zM246.19 194.22L250.22 201.2L242.16 201.2zM248.46 195.71L252.49 202.69L244.43 202.69zM250.72 197.2L254.75 204.18L246.69 204.18zM252.98 198.7L257.01 205.68L248.95 205.68zM255.25 200.18L259.28 207.16L251.22 207.16zM257.51 201.67L261.54 208.65L253.48 208.65zM259.77 203.15L263.8 210.13L255.74 210.13zM262.04 204.67L266.07 211.65L258.01 211.65zM264.3 206.19L268.33 213.17L260.27 213.17zM266.56 207.71L270.59 214.69L262.53 214.69zM268.83 209.22L272.86 216.2L264.8 216.2zM271.09 210.73L275.12 217.71L267.06 217.71zM273.36 212.23L277.39 219.21L269.33 219.21zM275.62 213.73L279.65 220.71L271.59 220.71zM277.88 215.22L281.91 222.2L273.85 222.2zM280.15 216.71L284.18 223.69L276.12 223.69zM282.41 218.19L286.44 225.17L278.38 225.17zM284.67 219.67L288.7 226.65L280.64 226.65zM286.94 221.14L290.97 228.12L282.91 228.12zM289.2 222.61L293.23 229.59L285.17 229.59zM291.46 224.03L295.49 231.01L287.43 231.01zM293.73 225.43L297.76 232.41L289.7 232.41zM295.99 226.83L300.02 233.81L291.96 233.81zM298.26 228.22L302.29 235.2L294.23 235.2zM300.52 229.6L304.55 236.58L296.49 236.58zM302.78 230.98L306.81 237.96L298.75 237.96zM305.05 232.35L309.08 239.33L301.02 239.33zM307.31 233.72L311.34 240.7L303.28 240.7zM309.57 235.08L313.6 242.06L305.54 242.06zM311.84 236.44L315.87 243.42L307.81 243.42zM314.1 237.78L318.13 244.76L310.07 244.76zM316.36 239.12L320.39 246.1L312.33 246.1zM318.63 240.45L322.66 247.43L314.6 247.43zM320.89 241.77L324.92 248.75L316.86 248.75zM323.15 243.07L327.18 250.05L319.12 250.05zM325.42 244.36L329.45 251.34L321.39 251.34zM327.68 245.63L331.71 252.61L323.65 252.61zM329.95 246.88L333.98 253.86L325.92 253.86zM332.21 248.01L336.24 254.99L328.18 254.99zM334.47 249.11L338.5 256.09L330.44 256.09zM336.74 250.19L340.77 257.17L332.71 257.17zM339 251.25L343.03 258.23L334.97 258.23zM341.26 252.28L345.29 259.26L337.23 259.26zM343.53 253.28L347.56 260.26L339.5 260.26zM345.79 254.25L349.82 261.23L341.76 261.23zM348.05 255.2L352.08 262.18L344.02 262.18zM350.32 256.1L354.35 263.08L346.29 263.08zM352.58 256.98L356.61 263.96L348.55 263.96zM354.85 257.82L358.88 264.8L350.82 264.8zM357.11 258.65L361.14 265.63L353.08 265.63zM359.37 259.45L363.4 266.43L355.34 266.43zM361.64 260.2L365.67 267.18L357.61 267.18zM363.9 260.92L367.93 267.9L359.87 267.9zM366.16 261.59L370.19 268.57L362.13 268.57zM368.43 262.21L372.46 269.19L364.4 269.19zM370.69 262.79L374.72 269.77L366.66 269.77zM372.95 263.33L376.98 270.31L368.92 270.31zM375.22 263.82L379.25 270.8L371.19 270.8zM377.48 264.3L381.51 271.28L373.45 271.28zM379.74 264.73L383.77 271.71L375.71 271.71zM382.01 265.11L386.04 272.09L377.98 272.09zM384.27 265.44L388.3 272.42L380.24 272.42zM386.54 265.72L390.57 272.7L382.51 272.7zM388.8 265.95L392.83 272.93L384.77 272.93zM391.06 266.12L395.09 273.1L387.03 273.1zM393.33 266.24L397.36 273.22L389.3 273.22zM395.59 266.32L399.62 273.3L391.56 273.3z"/>
<path d="M58.31 114.82V115.46M55.81 114.82h5.0M55.81 115.46h5.0M60.58 114.52V115.16M58.08 114.52h5.0M58.08 115.16h5.0M62.84 114.24V114.89M60.34 114.24h5.0M60.34 114.89h5.0M65.1 113.99V114.66M62.6 113.99h5.0M62.6 114.66h5.0M67.37 113.78V114.45M64.87 113.78h5.0M64.87 114.45h5.0M69.63 113.59V114.27M67.13 113.59h5.0M67.13 114.27h5.0M71.9 113.43V114.12M69.4 113.43h5.0M69.4 114.12h5.0M74.16 113.3V114M71.66 113.3h5.0M71.66 114h5.0M76.42 113.21V113.92M73.92 113.21h5.0M73.92 113.92h5.0M78.69 113.15V113.87M76.19 113.15h5.0M76.19 113.87h5.0M80.95 113.13V113.85M78.45 113.13h5.0M78.45 113.85h5.0M83.21 113.14V113.87M80.71 113.14h5.0M80.71 113.87h5.0M85.48 113.18V113.92M82.98 113.18h5.0M82.98 113.92h5.0M87.74 113.26V114.01M85.24 113.26h5.0M85.24 114.01h5.0M90 113.38V114.14M87.5 113.38h5.0M87.5 114.14h5.0M92.27 113.54V114.31M89.77 113.54h5.0M89.77 114.31h5.0M94.53 113.73V114.51M92.03 113.73h5.0M92.03 114.51h5.0M96.79 113.97V114.76M94.29 113.97h5.0M94.29 114.76h5.0M99.06 114.24V115.04M96.56 114.24h5.0M96.56 115.04h5.0M101.32 114.56V115.37M98.82 114.56h5.0M98.82 115.37h5.0M103.59 114.91V115.75M101.09 114.91h5.0M101.09 115.75h5.0M105.85 115.3V116.17M103.35 115.3h5.0M103.35 116.17h5.0M108.11 115.74V116.63M105.61 115.74h5.0M105.61 116.63h5.0M110.38 116.22V117.14M107.88 116.22h5.0M107.88 117.14h5.0M112.64 116.74V117.69M110.14 116.74h5.0M110.14 117.69h5.0M114.9 117.32V118.29M112.4 117.32h5.0M112.4 118.29h5.0M117.17 118.06V119.07M114.67 118.06h5.0M114.67 119.07h5.0M119.43 118.87V119.9M116.93 118.87h5.0M116.93 119.9h5.0M121.69 119.72V120.78M119.19 119.72h5.0M119.19 120.78h5.0M123.96 120.62V121.71M121.46 120.62h5.0M121.46 121.71h5.0M126.22 121.5V122.61M123.72 121.5h5.0M123.72 122.61h5.0M128.49 122.36V123.5M125.99 122.36h5.0M125.99 123.5h5.0M130.75 123.28V124.44M128.25 123.28h5.0M128.25 124.44h5.0M133.01 124.24V125.44M130.51 124.24h5.0M130.51 125.44h5.0M135.28 125.25V126.47M132.78 125.25h5.0M132.78 126.47h5.0M137.54 126.31V127.56M135.04 126.31h5.0M135.04 127.56h5.0M139.8 127.57V128.85M137.3 127.57h5.0M137.3 128.85h5.0M142.07 128.69V130M139.57 128.69h5.0M139.57 130h5.0M144.33 129.84V131.17M141.83 129.84h5.0M141.83 131.17h5.0M146.59 131.02V132.38M144.09 131.02h5.0M144.09 132.38h5.0M148.86 132.23V133.62M146.36 132.23h5.0M146.36 133.62h5.0M151.12 133.48V134.9M148.62 133.48h5.0M148.62 134.9h5.0M153.38 134.77V136.21M150.88 134.77h5.0M150.88 136.21h5.0M155.65 136.15V137.62M153.15 136.15h5.0M153.15 137.62h5.0M157.91 137.73V139.23M155.41 137.73h5.0M155.41 139.23h5.0M160.18 139.33V140.85M157.68 139.33h5.0M157.68 140.85h5.0M162.44 140.75V142.3M159.94 140.75h5.0M159.94 142.3h5.0M164.7 142.21V143.78M162.2 142.21h5.0M162.2 143.78h5.0M166.97 143.68V145.28M164.47 143.68h5.0M164.47 145.28h5.0M169.23 145.17V146.8M166.73 145.17h5.0M166.73 146.8h5.0M171.49 146.68V148.34M168.99 146.68h5.0M168.99 148.34h5.0M173.76 148.2V149.89M171.26 148.2h5.0M171.26 149.89h5.0M176.02 149.74V151.45M173.52 149.74h5.0M173.52 151.45h5.0M178.28 151.29V153.03M175.78 151.29h5.0M175.78 153.03h5.0M180.55 152.85V154.62M178.05 152.85h5.0M178.05 154.62h5.0M182.81 154.42V156.22M180.31 154.42h5.0M180.31 156.22h5.0M185.08 156V157.82M182.58 156h5.0M182.58 157.82h5.0M187.34 157.58V159.43M184.84 157.58h5.0M184.84 159.43h5.0M189.6 159.16V161.04M187.1 159.16h5.0M187.1 161.04h5.0M191.87 160.75V162.65M189.37 160.75h5.0M189.37 162.65h5.0M194.13 162.33V164.26M191.63 162.33h5.0M191.63 164.26h5.0M196.39 163.91V165.87M193.89 163.91h5.0M193.89 165.87h5.0M198.66 165.49V167.48M196.16 165.49h5.0M196.16 167.48h5.0M200.92 167.07V169.07M198.42 167.07h5.0M198.42 169.07h5.0M203.18 168.64V170.66M200.68 168.64h5.0M200.68 170.66h5.0M205.45 170.21V172.25M202.95 170.21h5.0M202.95 172.25h5.0M207.71 171.78V173.83M205.21 171.78h5.0M205.21 173.83h5.0M209.97 173.34V175.4M207.47 173.34h5.0M207.47 175.4h5.0M212.24 174.9V176.97M209.74 174.9h5.0M209.74 176.97h5.0M214.5 176.46V178.54M212 176.46h5.0M212 178.54h5.0M216.77 178V180.11M214.27 178h5.0M214.27 180.11h5.0M219.03 179.55V181.66M216.53 179.55h5.0M216.53 181.66h5.0M221.29 181.09V183.22M218.79 181.09h5.0M218.79 183.22h5.0M223.56 182.63V184.77M221.06 182.63h5.0M221.06 184.77h5.0M225.82 184.16V186.31M223.32 184.16h5.0M223.32 186.31h5.0M228.08 185.68V187.85M225.58 185.68h5.0M225.58 187.85h5.0M230.35 187.21V189.39M227.85 187.21h5.0M227.85 189.39h5.0M232.61 188.72V190.92M230.11 188.72h5.0M230.11 190.92h5.0M234.87 190.24V192.45M232.37 190.24h5.0M232.37 192.45h5.0M237.14 191.75V193.97M234.64 191.75h5.0M234.64 193.97h5.0M239.4 193.25V195.49M236.9 193.25h5.0M236.9 195.49h5.0M241.67 194.75V197M239.17 194.75h5.0M239.17 197h5.0M243.93 196.24V198.51M241.43 196.24h5.0M241.43 198.51h5.0M246.19 197.73V200.01M243.69 197.73h5.0M243.69 200.01h5.0M248.46 199.22V201.51M245.96 199.22h5.0M245.96 201.51h5.0M250.72 200.7V203.01M248.22 200.7h5.0M248.22 203.01h5.0M252.98 202.19V204.51M250.48 202.19h5.0M250.48 204.51h5.0M255.25 203.67V206M252.75 203.67h5.0M252.75 206h5.0M257.51 205.15V207.49M255.01 205.15h5.0M255.01 207.49h5.0M259.77 206.62V208.98M257.27 206.62h5.0M257.27 208.98h5.0M262.04 208.14V210.51M259.54 208.14h5.0M259.54 210.51h5.0M264.3 209.65V212.04M261.8 209.65h5.0M261.8 212.04h5.0M266.56 211.16V213.56M264.06 211.16h5.0M264.06 213.56h5.0M268.83 212.67V215.08M266.33 212.67h5.0M266.33 215.08h5.0M271.09 214.17V216.6M268.59 214.17h5.0M268.59 216.6h5.0M273.36 215.67V218.11M270.86 215.67h5.0M270.86 218.11h5.0M275.62 217.16V219.61M273.12 217.16h5.0M273.12 219.61h5.0M277.88 218.64V221.11M275.38 218.64h5.0M275.38 221.11h5.0M280.15 220.12V222.6M277.65 220.12h5.0M277.65 222.6h5.0M282.41 221.6V224.09M279.91 221.6h5.0M279.91 224.09h5.0M284.67 223.07V225.58M282.17 223.07h5.0M282.17 225.58h5.0M286.94 224.54V227.06M284.44 224.54h5.0M284.44 227.06h5.0M289.2 226V228.53M286.7 226h5.0M286.7 228.53h5.0M291.46 227.41V229.96M288.96 227.41h5.0M288.96 229.96h5.0M293.73 228.81V231.37M291.23 228.81h5.0M291.23 231.37h5.0M295.99 230.19V232.77M293.49 230.19h5.0M293.49 232.77h5.0M298.26 231.57V234.16M295.76 231.57h5.0M295.76 234.16h5.0M300.52 232.95V235.55M298.02 232.95h5.0M298.02 235.55h5.0M302.78 234.34V236.92M300.28 234.34h5.0M300.28 236.92h5.0M305.05 235.72V238.29M302.55 235.72h5.0M302.55 238.29h5.0M307.31 237.09V239.65M304.81 237.09h5.0M304.81 239.65h5.0M309.57 238.46V241M307.07 238.46h5.0M307.07 241h5.0M311.84 239.83V242.35M309.34 239.83h5.0M309.34 242.35h5.0M314.1 241.18V243.69M311.6 241.18h5.0M311.6 243.69h5.0M316.36 242.53V245.03M313.86 242.53h5.0M313.86 245.03h5.0M318.63 243.87V246.35M316.13 243.87h5.0M316.13 246.35h5.0M320.89 245.19V247.66M318.39 245.19h5.0M318.39 247.66h5.0M323.15 246.5V248.95M320.65 246.5h5.0M320.65 248.95h5.0M325.42 247.79V250.23M322.92 247.79h5.0M322.92 250.23h5.0M327.68 249.07V251.5M325.18 249.07h5.0M325.18 251.5h5.0M329.95 250.33V252.74M327.45 250.33h5.0M327.45 252.74h5.0M332.21 251.47V253.86M329.71 251.47h5.0M329.71 253.86h5.0M334.47 252.58V254.96M331.97 252.58h5.0M331.97 254.96h5.0M336.74 253.66V256.03M334.24 253.66h5.0M334.24 256.03h5.0M339 254.73V257.08M336.5 254.73h5.0M336.5 257.08h5.0M341.26 255.76V258.1M338.76 255.76h5.0M338.76 258.1h5.0M343.53 256.77V259.1M341.03 256.77h5.0M341.03 259.1h5.0M345.79 257.75V260.06M343.29 257.75h5.0M343.29 260.06h5.0M348.05 258.7V261M345.55 258.7h5.0M345.55 261h5.0M350.32 259.62V261.9M347.82 259.62h5.0M347.82 261.9h5.0M352.58 260.5V262.77M350.08 260.5h5.0M350.08 262.77h5.0M354.85 261.35V263.6M352.35 261.35h5.0M352.35 263.6h5.0M357.11 262.19V264.43M354.61 262.19h5.0M354.61 264.43h5.0M359.37 262.99V265.21M356.87 262.99h5.0M356.87 265.21h5.0M361.64 263.75V265.96M359.14 263.75h5.0M359.14 265.96h5.0M363.9 264.47V266.67M361.4 264.47h5.0M361.4 266.67h5.0M366.16 265.15V267.33M363.66 265.15h5.0M363.66 267.33h5.0M368.43 265.78V267.95M365.93 265.78h5.0M365.93 267.95h5.0M370.69 266.37V268.52M368.19 266.37h5.0M368.19 268.52h5.0M372.95 266.91V269.05M370.45 266.91h5.0M370.45 269.05h5.0M375.22 267.41V269.53M372.72 267.41h5.0M372.72 269.53h5.0M377.48 267.89V270.01M374.98 267.89h5.0M374.98 270.01h5.0M379.74 268.33V270.43M377.24 268.33h5.0M377.24 270.43h5.0M382.01 268.72V270.81M379.51 268.72h5.0M379.51 270.81h5.0M384.27 269.06V271.13M381.77 269.06h5.0M381.77 271.13h5.0M386.54 269.35V271.4M384.04 269.35h5.0M384.04 271.4h5.0M388.8 269.58V271.62M386.3 269.58h5.0M386.3 271.62h5.0M391.06 269.76V271.79M388.56 269.76h5.0M388.56 271.79h5.0M393.33 269.89V271.9M390.83 269.89h5.0M390.83 271.9h5.0M395.59 269.97V271.97M393.09 269.97h5.0M393.09 271.97h5.0" stroke="#000" stroke-opacity="0.25" stroke-width="0.85" fill="none"/>
<polyline fill="none" stroke="#ffc0cb" stroke-width="0.9" points="58.31,167.4 60.58,122.45 62.84,92.5 65.1,92.5"/>
<g fill="#ffc0cb"><circle cx="58.31" cy="167.4" r="3.15"/><circle cx="60.58" cy="122.45" r="3.15"/><circle cx="62.84" cy="92.5" r="3.15"/><circle cx="65.1" cy="92.5" r="3.15"/></g>
<path stroke="#000" stroke-opacity="0.4" stroke-width="0.9" d="M55.81 167.4h5.0M58.08 122.45h5.0M60.34 92.5h5.0M62.6 92.5h5.0"/>
<rect x="42.5" y="42.5" width="366.5" height="243.5" fill="none" stroke="#000" stroke-width="1"/>
<line x1="56.05" x2="56.05" y1="286.0" y2="290.0" stroke="#000" stroke-width="0.85"/>
<line x1="90" x2="90" y1="286.0" y2="290.0" stroke="#000" stroke-width="0.85"/>
<line x1="123.96" x2="123.96" y1="286.0" y2="290.0" stroke="#000" stroke-width="0.85"/>
<line x1="157.91" x2="157.91" y1="286.0" y2="290.0" stroke="#000" stroke-width="0.85"/>
<line x1="191.87" x2="191.87" y1="286.0" y2="290.0" stroke="#000" stroke-width="0.85"/>
<line x1="225.82" x2="225.82" y1="286.0" y2="290.0" stroke="#000" stroke-width="0.85"/>
<line x1="259.77" x2="259.77" y1="286.0" y2="290.0" stroke="#000" stroke-width="0.85"/>
<line x1="293.73" x2="293.73" y1="286.0" y2="290.0" stroke="#000" stroke-width="0.85"/>
<line x1="327.68" x2="327.68" y1="286.0" y2="290.0" stroke="#000" stroke-width="0.85"/>
<line x1="361.64" x2="361.64" y1="286.0" y2="290.0" stroke="#000" stroke-width="0.85"/>
<line x1="395.59" x2="395.59" y1="286.0" y2="290.0" stroke="#000" stroke-width="0.85"/>
<line x1="38.1" x2="42.5" y1="276.98" y2="276.98" stroke="#000" stroke-width="0.85"/>
<line x1="38.1" x2="42.5" y1="231.89" y2="231.89" stroke="#000" stroke-width="0.85"/>
<line x1="38.1" x2="42.5" y1="186.79" y2="186.79" stroke="#000" stroke-width="0.85"/>
<line x1="38.1" x2="42.5" y1="141.7" y2="141.7" stroke="#000" stroke-width="0.85"/>
<line x1="38.1" x2="42.5" y1="96.61" y2="96.61" stroke="#000" stroke-width="0.85"/>
<line x1="38.1" x2="42.5" y1="51.52" y2="51.52" stroke="#000" stroke-width="0.85"/>
<line x1="81.8" x2="106.2" y1="202.5" y2="202.5" stroke="#000" stroke-width="1"/>
<line x1="81.8" x2="106.2" y1="218.3" y2="218.3" stroke="#00ff00" stroke-width="1"/>
<line x1="81.8" x2="106.2" y1="234.3" y2="234.3" stroke="#ff0000" stroke-width="1"/>
<line x1="81.8" x2="106.2" y1="250.2" y2="250.2" stroke="#0000ff" stroke-width="1"/>
<line x1="81.8" x2="106.2" y1="265.8" y2="265.8" stroke="#ffc0cb" stroke-width="1"/>
<circle cx="94.0" cy="202.5" r="3.1" fill="#000"/>
<rect x="91.1" y="215.4" width="5.8" height="5.8" fill="#00ff00"/>
<path d="M91.4 234.3l2.6 -2.6l2.6 2.6l-2.6 2.6z" fill="#ff0000"/>
<path d="M94.0 245.5467L98.0299 252.5265L89.9701 252.5265z" fill="#0000ff"/>
<circle cx="94.0" cy="265.8" r="3.1" fill="#ffc0cb"/>
<text x="117.5" y="207">Baum−Welch</text>
<text x="117.5" y="222.6">Stochastic EM 1</text>
<text x="117.5" y="238.4">Stochastic EM 3</text>
<text x="117.5" y="254.2">Stochastic EM 5</text>
<text x="117.5" y="269.7">Viterbi</text>
<text x="56.05" y="300.7" text-anchor="middle">0</text>
<text x="90" y="300.7" text-anchor="middle">15</text>
<text x="123.96" y="300.7" text-anchor="middle">30</text>
<text x="157.91" y="300.7" text-anchor="middle">45</text>
<text x="191.87" y="300.7" text-anchor="middle">60</text>
<text x="225.82" y="300.7" text-anchor="middle">75</text>
<text x="259.77" y="300.7" text-anchor="middle">90</text>
<text x="293.73" y="300.7" text-anchor="middle">105</text>
<text x="327.68" y="300.7" text-anchor="middle">120</text>
<text x="361.64" y="300.7" text-anchor="middle">135</text>
<text x="395.59" y="300.7" text-anchor="middle">150</text>
<text transform="translate(33.5 276.98) rotate(-90)" text-anchor="middle">0.0</text>
<text transform="translate(33.5 231.89) rotate(-90)" text-anchor="middle">0.1</text>
<text transform="translate(33.5 186.79) rotate(-90)" text-anchor="middle">0.2</text>
<text transform="translate(33.5 141.7) rotate(-90)" text-anchor="middle">0.3</text>
<text transform="translate(33.5 96.61) rotate(-90)" text-anchor="middle">0.4</text>
<text transform="translate(33.5 51.52) rotate(-90)" text-anchor="middle">0.5</text>
<text x="225.6" y="315.5" text-anchor="middle" textLength="116.7" lengthAdjust="spacing">number of iterations</text>
<text transform="translate(18.3 164.6) rotate(-90)" text-anchor="middle" textLength="109.2" lengthAdjust="spacing">tprob convergence</text>
</svg>
</body></html>
